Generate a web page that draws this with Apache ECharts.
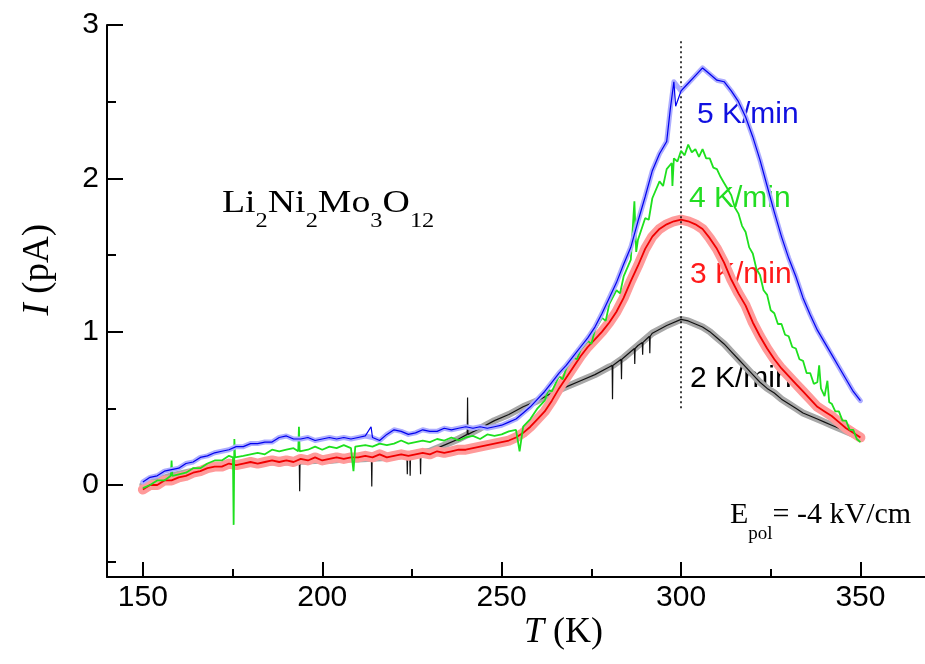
<!DOCTYPE html>
<html>
<head>
<meta charset="utf-8">
<script src="https://cdn.jsdelivr.net/npm/echarts@6/dist/echarts.min.js"></script>
<style>html,body{margin:0;padding:0;background:#fff}#c{width:925px;height:664px}</style>
</head>
<body>
<div id="c"></div>
<script>
// ---- data: [T (K), I (pA)] ----
const rate5 = [[150,0.02],[152,0.05],[154,0.06],[156,0.09],[158,0.10],[160,0.11],[162,0.14],[164,0.15],[166,0.18],[168,0.19],[170,0.21],[172,0.22],[174,0.23],[176,0.25],[178,0.25],[180,0.27],[182,0.27],[184,0.28],[186,0.28],[188,0.31],[190,0.32],[192,0.30],[194,0.30],[196,0.31],[198,0.29],[200,0.30],[202,0.31],[204,0.30],[206,0.31],[208,0.30],[210,0.31],[212,0.32],[213.6,0.38],[214,0.31],[216,0.29],[218,0.33],[220,0.36],[222,0.35],[224,0.33],[226,0.34],[228,0.36],[230,0.35],[232,0.35],[234,0.37],[236,0.36],[238,0.37],[240,0.38],[242,0.37],[244,0.38],[246,0.37],[248,0.38],[250,0.39],[252,0.41],[254,0.43],[256,0.47],[258,0.51],[260,0.56],[262,0.61],[264,0.67],[266,0.73],[268,0.78],[270,0.84],[272,0.90],[274,0.96],[276,1.03],[278,1.12],[280,1.22],[282,1.32],[284,1.44],[286,1.55],[288,1.72],[290,1.88],[292,2.05],[294,2.16],[296,2.24],[297,2.45],[298,2.63],[298.5,2.47],[300,2.57],[302,2.62],[304,2.67],[306,2.72],[308,2.68],[310,2.64],[312,2.63],[314,2.57],[316,2.50],[318,2.40],[320,2.27],[322,2.12],[324,1.95],[326,1.78],[328,1.62],[330,1.48],[332,1.36],[334,1.22],[336,1.11],[338,1.01],[340,0.93],[342,0.85],[344,0.77],[346,0.69],[348,0.61],[350,0.55]];

const rate4 = [[150,-0.02],[152,0.00],[154,0.03],[156,0.03],[157.8,0.06],[158,0.16],[158.2,0.06],[160,0.07],[162,0.08],[164,0.11],[166,0.11],[168,0.14],[170,0.16],[172,0.16],[174,0.19],[175.1,0.18],[175.3,-0.26],[175.5,0.30],[175.7,0.18],[178,0.19],[180,0.20],[182,0.21],[184,0.20],[186,0.23],[188,0.22],[190,0.23],[192,0.24],[193.3,0.22],[193.5,0.38],[193.7,0.22],[196,0.23],[198,0.25],[200,0.23],[202,0.25],[204,0.24],[206,0.26],[208,0.24],[208.7,0.09],[209.2,0.25],[212,0.26],[214,0.25],[216,0.27],[218,0.26],[220,0.27],[222,0.29],[224,0.27],[226,0.28],[228,0.29],[230,0.28],[232,0.30],[234,0.29],[236,0.31],[238,0.29],[240,0.31],[242,0.32],[244,0.30],[246,0.33],[248,0.32],[250,0.33],[252,0.35],[254,0.36],[255,0.22],[256,0.38],[258,0.43],[260,0.50],[262,0.55],[263,0.62],[264,0.61],[266,0.71],[267,0.69],[268,0.76],[270,0.83],[271,0.82],[272,0.88],[274,0.94],[275,0.92],[276,1.01],[278,1.09],[279,1.07],[280,1.18],[282,1.27],[283,1.25],[284,1.36],[286,1.47],[287,1.85],[287.5,1.52],[288,1.60],[290,1.74],[291,1.73],[292,1.87],[294,1.98],[295,1.95],[296,2.06],[297.4,2.10],[297.6,1.95],[298,2.13],[299,2.11],[300,2.18],[301,2.15],[302,2.22],[303,2.17],[304,2.19],[305,2.14],[306,2.19],[307,2.13],[308,2.13],[309,2.07],[310,2.06],[311,2.01],[312,1.97],[313,1.93],[314,1.89],[315,1.81],[316,1.77],[317,1.69],[318,1.65],[319,1.55],[320,1.51],[321,1.41],[322,1.37],[323,1.27],[324,1.24],[325,1.14],[326,1.12],[327,1.05],[328,1.05],[329,0.98],[330,0.97],[331,0.90],[332,0.89],[333,0.82],[334,0.81],[335,0.73],[336,0.73],[337,0.66],[338,0.67],[338.5,0.78],[339,0.63],[340,0.58],[340.8,0.68],[341.3,0.54],[342,0.53],[343,0.48],[344,0.48],[345,0.42],[346,0.42],[347,0.36],[348,0.36],[349,0.30],[350,0.28]];

const rate3 = [[150,-0.03],[152,0.00],[154,0.00],[156,0.03],[158,0.03],[160,0.05],[162,0.06],[164,0.08],[166,0.09],[168,0.11],[170,0.12],[172,0.12],[174,0.14],[176,0.13],[178,0.14],[180,0.15],[182,0.14],[184,0.15],[186,0.16],[188,0.15],[190,0.16],[192,0.15],[194,0.17],[196,0.16],[198,0.18],[200,0.16],[202,0.17],[204,0.18],[206,0.17],[208,0.18],[210,0.18],[212,0.19],[214,0.18],[216,0.20],[218,0.18],[220,0.19],[222,0.20],[224,0.19],[226,0.20],[228,0.21],[230,0.20],[232,0.22],[234,0.21],[236,0.22],[238,0.23],[240,0.23],[242,0.24],[244,0.25],[246,0.26],[248,0.27],[250,0.28],[252,0.29],[254,0.31],[256,0.34],[258,0.38],[260,0.43],[262,0.48],[264,0.55],[266,0.63],[268,0.70],[270,0.77],[272,0.84],[274,0.90],[276,0.95],[278,1.00],[280,1.06],[282,1.13],[284,1.22],[286,1.33],[288,1.43],[290,1.54],[292,1.62],[294,1.67],[296,1.70],[298,1.72],[300,1.73],[302,1.72],[304,1.70],[306,1.67],[308,1.61],[310,1.54],[312,1.45],[314,1.34],[316,1.25],[318,1.17],[320,1.06],[322,0.97],[324,0.89],[326,0.82],[328,0.76],[330,0.71],[332,0.66],[334,0.61],[336,0.56],[338,0.51],[340,0.48],[342,0.45],[344,0.41],[346,0.37],[348,0.34],[350,0.31]];

const rate2 = [[150,0.00],[154,0.03],[158,0.06],[162,0.08],[166,0.10],[170,0.12],[174,0.13],[178,0.14],[182,0.14],[186,0.15],[190,0.15],[193.6,0.15],[193.7,-0.04],[193.8,0.15],[198,0.16],[202,0.16],[206,0.17],[210,0.17],[213.7,0.17],[213.8,-0.01],[213.9,0.17],[218,0.18],[222,0.19],[223.6,0.19],[223.7,0.07],[223.8,0.19],[224.4,0.19],[224.5,0.06],[224.6,0.19],[227.3,0.20],[227.4,0.07],[227.5,0.20],[230,0.22],[234,0.26],[238,0.30],[240.4,0.33],[240.5,0.57],[240.6,0.33],[244,0.37],[248,0.42],[252,0.46],[256,0.51],[260,0.55],[264,0.60],[268,0.64],[272,0.68],[276,0.72],[280,0.77],[280.8,0.78],[280.9,0.56],[281,0.78],[283.3,0.82],[283.4,0.69],[283.5,0.82],[284,0.83],[287,0.89],[287.1,0.79],[287.2,0.89],[288,0.91],[289.2,0.93],[289.3,0.85],[289.4,0.93],[291.2,0.97],[291.3,0.86],[291.4,0.97],[292,0.99],[296,1.04],[300,1.08],[302,1.07],[304,1.05],[306,1.03],[308,1.00],[310,0.96],[312,0.92],[314,0.87],[316,0.82],[318,0.77],[320,0.72],[322,0.67],[324,0.63],[326,0.60],[328,0.56],[330,0.53],[332,0.50],[334,0.47],[336,0.45],[338,0.43],[340,0.41],[342,0.39],[344,0.37],[346,0.35],[348,0.33],[350,0.31]];

const xMajorTicks = [150, 200, 250, 300, 350];
const xMinorTicks = [175, 225, 275, 325];
const yMajorTicks = [0, 1, 2, 3];
const yMinorTicks = [-0.5, 0.5, 1.5, 2.5];
const peakT = 300;
const peakLineRange = [0.5, 2.9];
const rateLabels = ['5 K/min', '4 K/min', '3 K/min', '2 K/min'];
const compoundParts = [['Li', 0], ['2', 1], ['Ni', 0], ['2', 1], ['Mo', 0], ['3', 1], ['O', 0], ['12', 1]];
const fieldParts = [['E', 0], ['pol', 1], ['= -4 kV/cm', 0]];

const chart = echarts.init(document.getElementById('c'), null, {renderer: 'canvas'});
const SANS = '"Liberation Sans", Arial, sans-serif';
const SERIF = '"Liberation Serif", "Times New Roman", serif';

const mctx = document.createElement('canvas').getContext('2d');
function measure(text, px) { mctx.font = px + 'px ' + SERIF; return mctx.measureText(text).width; }
function subGroup(x, y, parts, mainPx, subPx, drop, scaleX) {
  let cx = 0;
  const children = parts.map(([t, isSub]) => {
    const px = isSub ? subPx : mainPx;
    const el = {type: 'text', x: cx, y: isSub ? drop : 0,
      style: {text: t, font: px + 'px ' + SERIF, fill: '#000', verticalAlign: 'top', align: 'left'}};
    cx += measure(t, px);
    return el;
  });
  return {type: 'group', x, y, scaleX: scaleX || 1, children};
}

function xAx(ticks, len, labels) {
  return {
    type: 'value', min: 140, max: 368, position: 'bottom',
    axisLine: {show: labels, onZero: false, lineStyle: {color: '#000', width: 2}},
    axisTick: {show: true, inside: true, length: len, customValues: ticks, lineStyle: {color: '#000', width: 2}},
    axisLabel: {show: labels, customValues: ticks, margin: 6, color: '#000', fontSize: 30, fontFamily: SANS},
    splitLine: {show: false}
  };
}
function yAx(ticks, len, labels) {
  return {
    type: 'value', min: -0.6, max: 3, position: 'left',
    axisLine: {show: labels, onZero: false, lineStyle: {color: '#000', width: 2}},
    axisTick: {show: true, inside: true, length: len, customValues: ticks, lineStyle: {color: '#000', width: 2}},
    axisLabel: {show: labels, customValues: ticks, margin: 8, color: '#000', fontSize: 30, fontFamily: SANS},
    splitLine: {show: false}
  };
}

function band(data, color, width, z) {
  return {
    type: 'line', data: data.filter(p => Number.isInteger(p[0])), z, silent: true,
    symbol: 'none', lineStyle: {color, width, cap: 'round', join: 'round'},
    emphasis: {disabled: true}, animation: false
  };
}
function ser(name, data, lineColor, lineWidth, z) {
  return {
    name, type: 'line', data, z,
    symbol: 'none',
    lineStyle: {color: lineColor, width: lineWidth},
    emphasis: {disabled: true}, animation: false
  };
}

const s2 = ser('2 K/min', rate2, '#111', 1.2, 3);
s2.markLine = {
  silent: true, symbol: 'none', animation: false,
  lineStyle: {color: '#000', type: [2, 3], width: 1.5},
  label: {show: false},
  data: [[{coord: [peakT, peakLineRange[0]]}, {coord: [peakT, peakLineRange[1]]}]]
};

chart.setOption({
  animation: false,
  grid: {left: 107, right: 0, top: 25, bottom: 87, containLabel: false},
  xAxis: [xAx(xMajorTicks, 15, true), xAx(xMinorTicks, 8, false)],
  yAxis: [yAx(yMajorTicks, 16, true), yAx(yMinorTicks, 9, false)],
  series: [
    band(rate2, '#a8a8a8', 7, 2),
    s2,
    band(rate3, '#ff9a9a', 10, 4),
    ser('3 K/min', rate3, '#f00000', 1.8, 5),
    ser('4 K/min', rate4, '#1ee01e', 1.8, 6),
    band(rate5, '#adadff', 5, 7),
    ser('5 K/min', rate5, '#0000ee', 1.2, 8)
  ],
  graphic: [
    {type: 'text', left: 697, top: 100, style: {text: rateLabels[0], fill: '#1010e0', font: '30px ' + SANS}},
    {type: 'text', left: 689, top: 184, style: {text: rateLabels[1], fill: '#22dd22', font: '30px ' + SANS}},
    {type: 'text', left: 690, top: 260, style: {text: rateLabels[2], fill: '#ff1a1a', font: '30px ' + SANS}},
    {type: 'text', left: 690, top: 364, style: {text: rateLabels[3], fill: '#000', font: '30px ' + SANS}},
    subGroup(222, 188, compoundParts, 31, 20, 24, 1.22),
    subGroup(730, 500, fieldParts, 30, 19, 25, 1),
    {type: 'text', left: 524, top: 615, style: {
      text: '{i|T} (K)', fill: '#000', font: '36px ' + SERIF,
      rich: {i: {fontStyle: 'italic', fontSize: 36, fontFamily: SERIF}}
    }},
    {type: 'text', left: 20, top: 224, rotation: Math.PI / 2, style: {
      text: '{i|I} (pA)', fill: '#000', font: '37px ' + SERIF,
      rich: {i: {fontStyle: 'italic', fontSize: 37, fontFamily: SERIF}}
    }}
  ]
});
</script>
</body>
</html>
